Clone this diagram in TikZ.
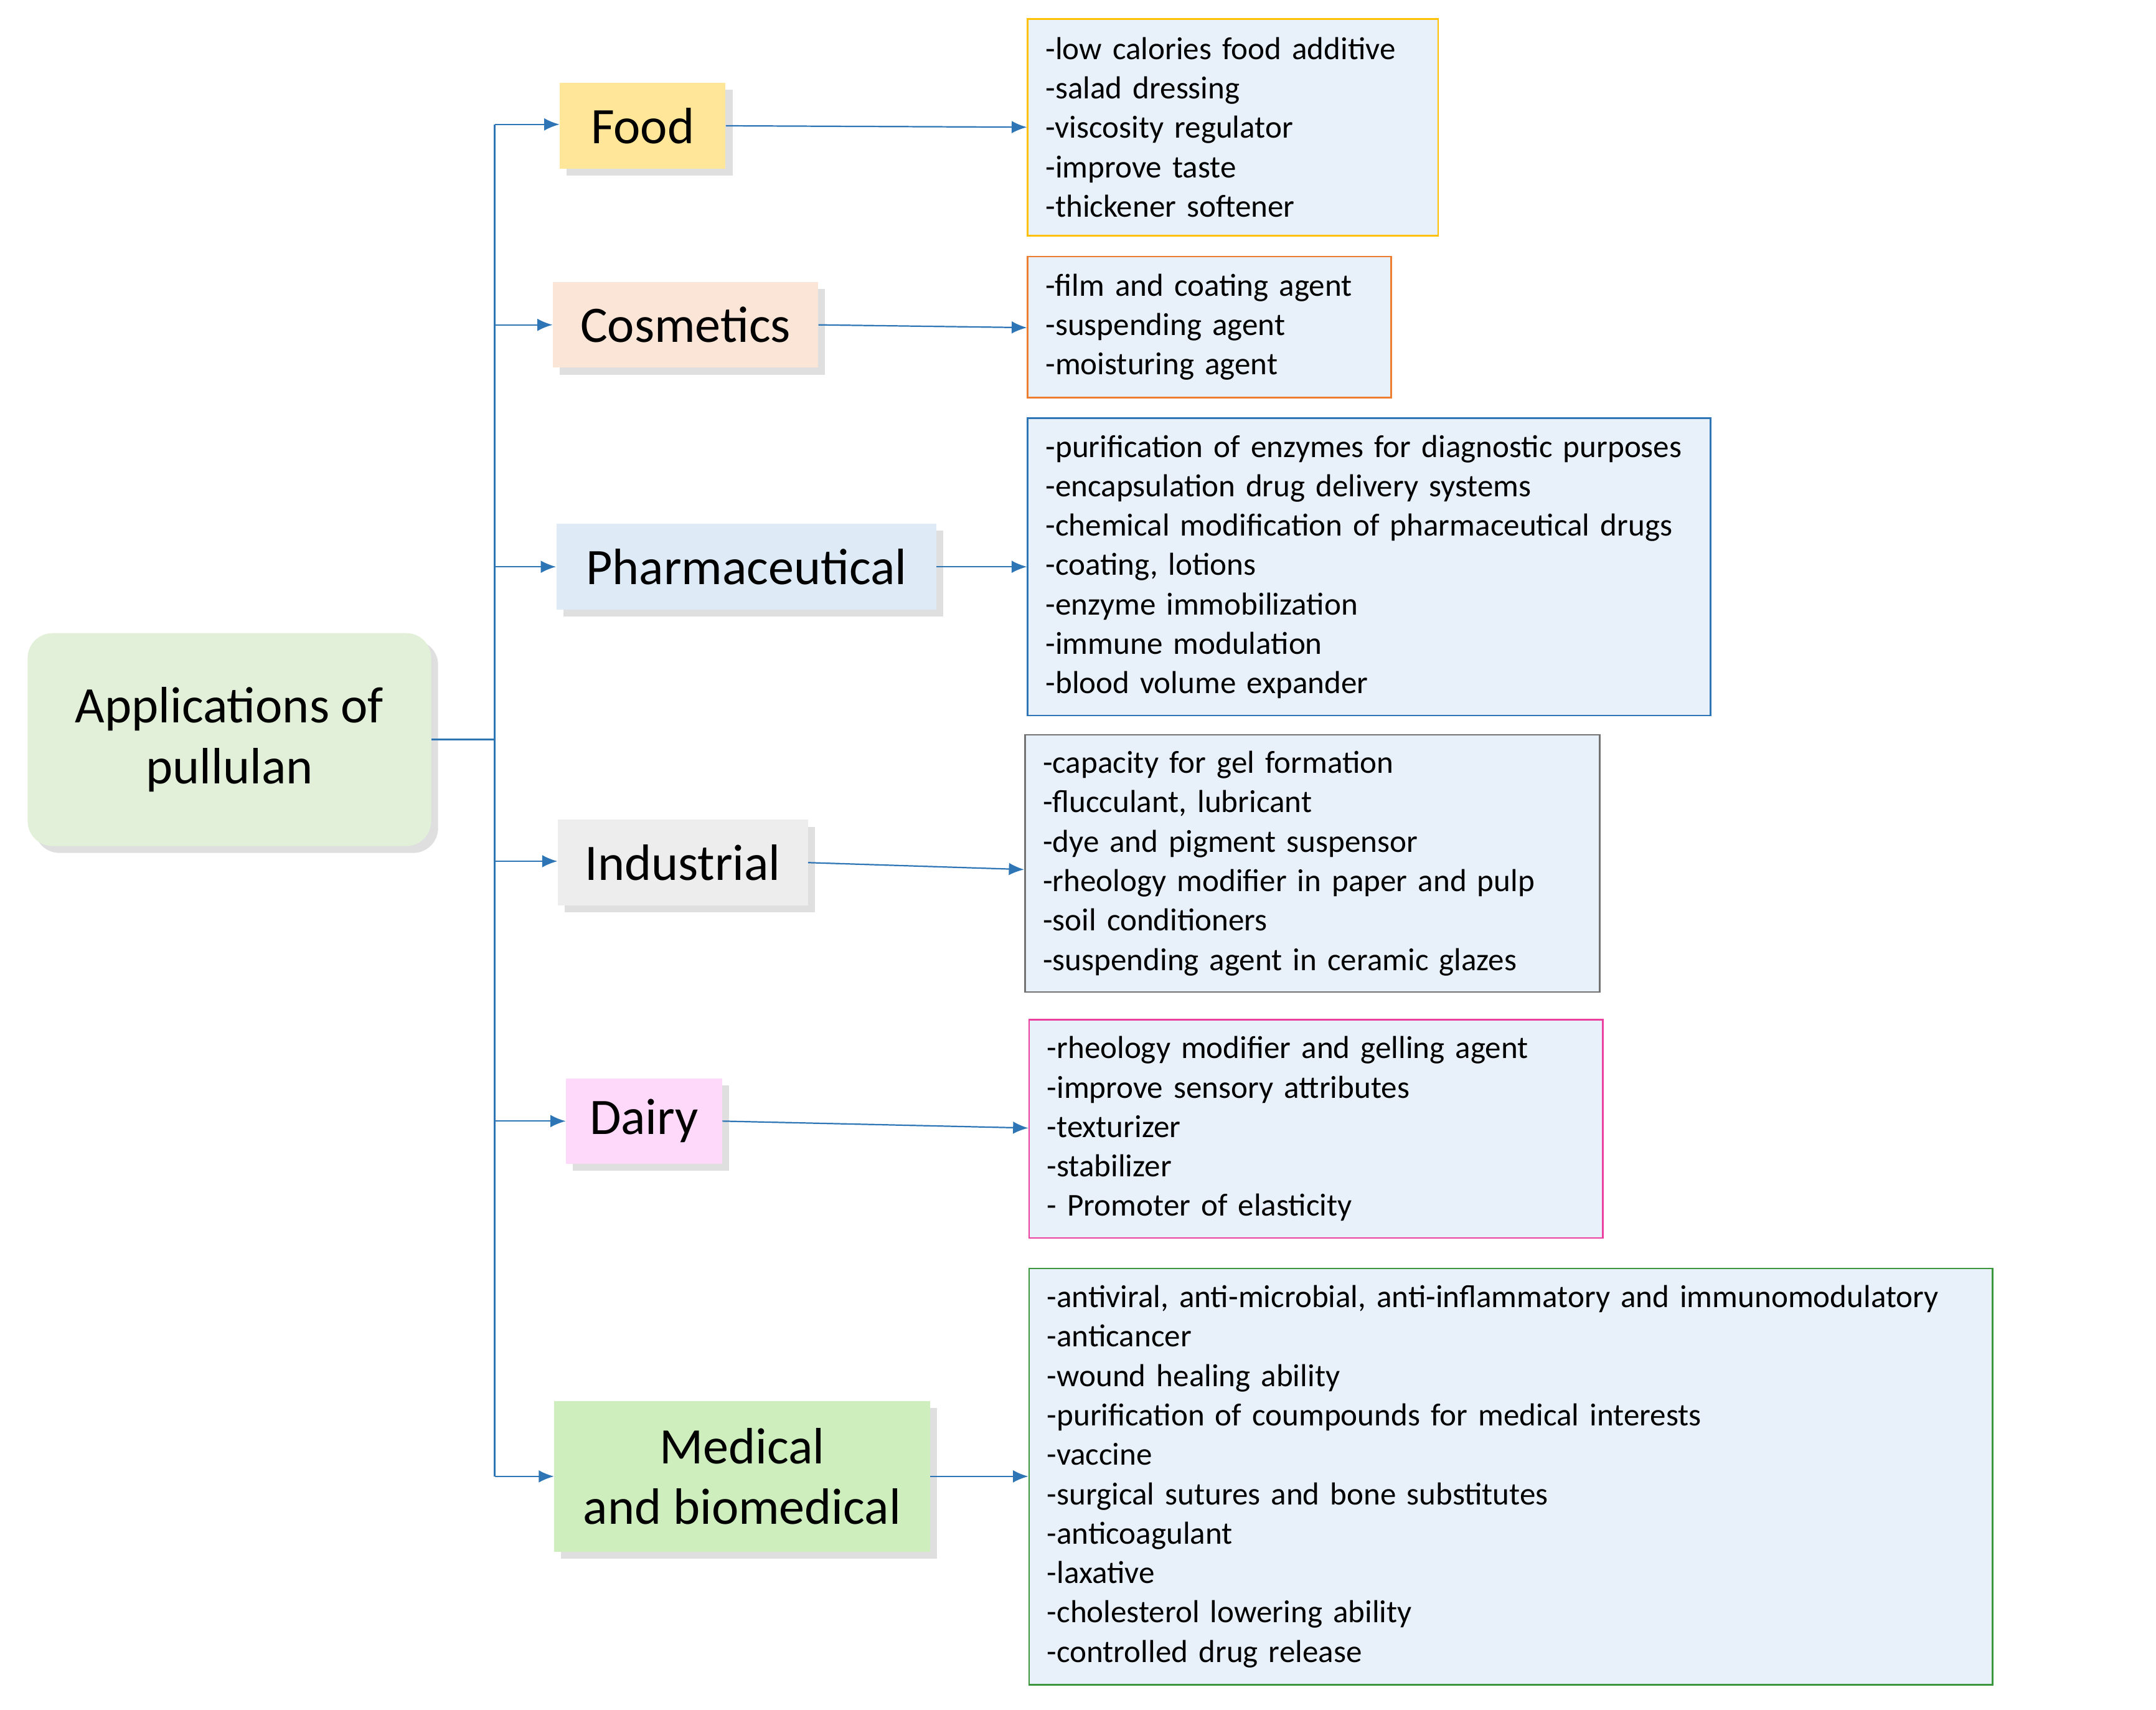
\documentclass[tikz,border=0pt]{standalone}
\usepackage{fontspec}
\setmainfont{Carlito}
\usetikzlibrary{arrows.meta,shadows}
\definecolor{ln}{HTML}{2E75B6}
\definecolor{lf}{HTML}{E8F1FA}
\begin{document}
\begin{tikzpicture}[x=1pt,y=-1pt,
  cat/.style={draw=none,minimum height=62pt,font=\fontsize{37}{44}\selectfont,
    drop shadow={shadow xshift=5pt,shadow yshift=-5pt,opacity=0.25}},
  lst/.style={draw,line width=1.2pt,fill=lf,anchor=north west,align=left,
    font=\fontsize{23}{28.5}\selectfont,inner xsep=13pt,inner ysep=6pt},
  arr/.style={ln,line width=1pt,-{Latex[length=11pt,width=9pt]}},
  lnk/.style={ln,line width=1.2pt}]
\useasboundingbox (0,0) rectangle (1560,1237);
\fill[white] (0,0) rectangle (1560,1237);
\node[cat,fill={rgb,255:red,226;green,240;blue,217},rounded corners=18pt,minimum width=292pt,minimum height=154pt,align=center] (root) at (166,535) {Applications of\\pullulan};
\node[cat,fill={rgb,255:red,255;green,230;blue,153},minimum width=120pt] (food) at (465,91) {Food};
\node[cat,fill={rgb,255:red,251;green,229;blue,214},minimum width=192pt] (cos) at (496,235) {Cosmetics};
\node[cat,fill={rgb,255:red,222;green,235;blue,247},minimum width=275pt] (pha) at (540,410) {Pharmaceutical};
\node[cat,fill={rgb,255:red,237;green,237;blue,237},minimum width=181pt] (ind) at (494,624) {Industrial};
\node[cat,fill={rgb,255:red,255;green,217;blue,250},minimum width=113pt] (dai) at (466,811) {Dairy};
\node[cat,fill={rgb,255:red,206;green,238;blue,190},minimum width=272pt,minimum height=109pt,align=center] (med) at (537,1068) {Medical\\and biomedical};
\coordinate (j) at (358,535);
\coordinate (t) at (358,90);
\coordinate (b) at (358,1068);
\draw[lnk] (root.east) -- (j);
\draw[lnk] (t) -- (b);
\foreach \n/\y in {food/90,cos/235,pha/410,ind/623,dai/811,med/1068}
  \draw[arr] (358,\y) -- (\n.west |- 0,\y);
\node[lst,draw={rgb,255:red,255;green,192;blue,0},text width=271pt,minimum height=157pt] (lf1) at (743,13) {-low calories food additive\\-salad dressing\\-viscosity regulator\\-improve taste\\-thickener softener};
\node[lst,draw={rgb,255:red,237;green,125;blue,49},text width=237pt,minimum height=102pt] (lc) at (743,185) {-film and coating agent\\-suspending agent\\-moisturing agent};
\node[lst,draw=ln,text width=468pt,minimum height=215pt] (lp) at (743,302) {-purification of enzymes for diagnostic purposes\\-encapsulation drug delivery systems\\-chemical modification of pharmaceutical drugs\\-coating, lotions\\-enzyme immobilization\\-immune modulation\\-blood volume expander};
\node[lst,draw=black!55,text width=390pt,minimum height=186pt] (li) at (741,531) {-capacity for gel formation\\-flucculant, lubricant\\-dye and pigment suspensor\\-rheology modifier in paper and pulp\\-soil conditioners\\-suspending agent in ceramic glazes};
\node[lst,draw={rgb,255:red,236;green,64;blue,160},text width=389pt,minimum height=158pt] (ld) at (744,737) {-rheology modifier and gelling agent\\-improve sensory attributes\\-texturizer\\-stabilizer\\- Promoter of elasticity};
\node[lst,draw={rgb,255:red,60;green,150;blue,60},text width=671pt,minimum height=301pt] (lm) at (744,917) {-antiviral, anti-microbial, anti-inflammatory and immunomodulatory\\-anticancer\\-wound healing ability\\-purification of coumpounds for medical interests\\-vaccine\\-surgical sutures and bone substitutes\\-anticoagulant\\-laxative\\-cholesterol lowering ability\\-controlled drug release};
\draw[arr] (food.east) -- (lf1.west |- 0,92);
\draw[arr] (cos.east) -- (lc.west |- 0,237);
\draw[arr] (pha.east) -- (lp.west |- 0,410);
\draw[arr] (ind.east) -- (li.west |- 0,629);
\draw[arr] (dai.east) -- (ld.west |- 0,816);
\draw[arr] (med.east) -- (lm.west |- 0,1068);
\end{tikzpicture}
\end{document}
